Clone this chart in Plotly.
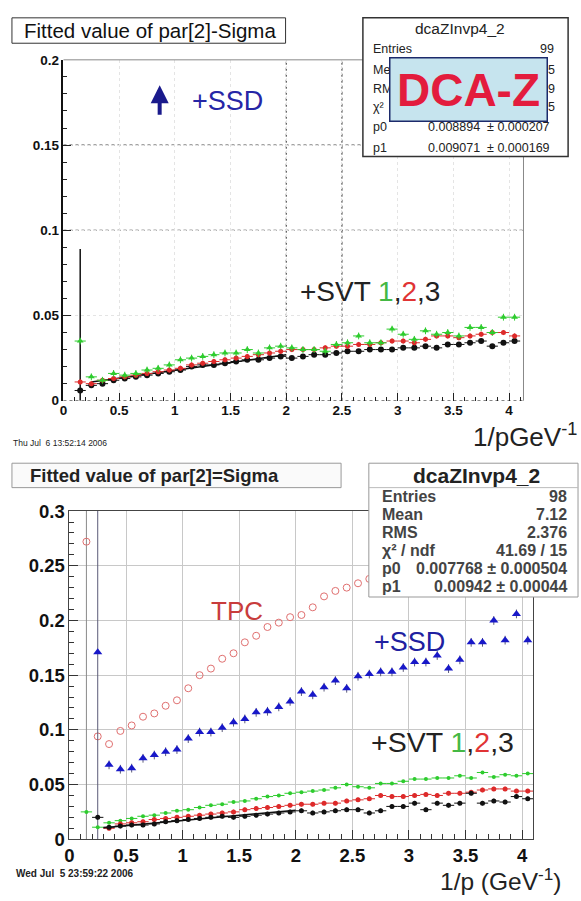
import plotly.graph_objects as go

W, H = 581, 901
def PX(x): return x / W
def PY(y): return 1 - y / H

# ---------------- data: top panel (x = bin centres in 1/p) ----------------
top_x = [0.15, 0.25, 0.35, 0.45, 0.55, 0.65, 0.75, 0.85, 0.95, 1.05,
         1.15, 1.25, 1.35, 1.45, 1.55, 1.65, 1.75, 1.85, 1.95, 2.05,
         2.15, 2.25, 2.35, 2.45, 2.55, 2.65, 2.75, 2.85, 2.95, 3.05,
         3.15, 3.25, 3.35, 3.45, 3.55, 3.65, 3.75, 3.85, 3.95, 4.05]
top_black = [0.006, 0.009, 0.010, 0.012, 0.013, 0.014, 0.015, 0.016, 0.017, 0.018,
             0.020, 0.021, 0.021, 0.022, 0.023, 0.024, 0.024, 0.025, 0.026, 0.025,
             0.026, 0.027, 0.027, 0.028, 0.029, 0.029, 0.030, 0.030, 0.030, 0.031,
             0.031, 0.032, 0.031, 0.033, 0.033, 0.034, 0.035, 0.032, 0.034, 0.035]
top_black_err_up = [0.083] + [0.0012] * 39
top_black_err_dn = [0.006] + [0.0012] * 39
top_red = [0.011, 0.010, 0.012, 0.013, 0.014, 0.015, 0.016, 0.017, 0.018, 0.019,
           0.021, 0.022, 0.023, 0.024, 0.025, 0.026, 0.027, 0.028, 0.029, 0.030,
           0.030, 0.030, 0.031, 0.032, 0.032, 0.033, 0.033, 0.034, 0.035, 0.035,
           0.034, 0.036, 0.038, 0.038, 0.037, 0.038, 0.039, 0.040, 0.040, 0.038]
top_green = [0.035, 0.014, 0.012, 0.016, 0.015, 0.016, 0.018, 0.019, 0.021, 0.024,
             0.025, 0.026, 0.027, 0.028, 0.028, 0.030, 0.028, 0.031, 0.032, 0.031,
             0.030, 0.030, 0.029, 0.033, 0.034, 0.038, 0.034, 0.034, 0.042, 0.039,
             0.036, 0.041, 0.039, 0.040, 0.038, 0.043, 0.043, 0.040, 0.049, 0.049]
top_fit_x = [0.25, 2.0]
top_fit_y = [0.011, 0.027]

# ---------------- data: bottom panel ----------------
bot_tpc_x = [0.15, 0.25, 0.35, 0.45, 0.55, 0.65, 0.75, 0.85, 0.95, 1.05,
             1.15, 1.25, 1.35, 1.45, 1.55, 1.65, 1.75, 1.85, 1.95, 2.05,
             2.15, 2.25, 2.35, 2.45, 2.55, 2.65, 2.75]
bot_tpc = [0.272, 0.094, 0.087, 0.099, 0.104, 0.112, 0.115, 0.122, 0.127, 0.138,
           0.150, 0.156, 0.165, 0.170, 0.180, 0.186, 0.194, 0.198, 0.203, 0.205,
           0.212, 0.222, 0.227, 0.230, 0.234, 0.238, 0.243]
bot_tpc_err = [0.272] + [0.0] * 26

bot_x = [0.25, 0.35, 0.45, 0.55, 0.65, 0.75, 0.85, 0.95, 1.05,
         1.15, 1.25, 1.35, 1.45, 1.55, 1.65, 1.75, 1.85, 1.95, 2.05,
         2.15, 2.25, 2.35, 2.45, 2.55, 2.65, 2.75, 2.85, 2.95, 3.05,
         3.15, 3.25, 3.35, 3.45, 3.55, 3.65, 3.75, 3.85, 3.95, 4.05]
bot_ssd = [0.171, 0.068, 0.064, 0.065, 0.074, 0.077, 0.080, 0.082, 0.092,
           0.098, 0.098, 0.102, 0.107, 0.110, 0.116, 0.117, 0.121, 0.126, 0.135,
           0.132, 0.139, 0.145, 0.138, 0.149, 0.151, 0.153, 0.153, 0.157, 0.162,
           0.162, 0.168, 0.156, 0.164, 0.180, 0.180, 0.200, 0.182, 0.206, 0.182]
bot_ssd_err = [0.171] + [0.004] * 38
bot_black = [0.020, 0.011, 0.012, 0.013, 0.013, 0.014, 0.016, 0.017, 0.018,
             0.019, 0.020, 0.021, 0.020, 0.021, 0.022, 0.023, 0.024, 0.025, 0.026,
             0.024, 0.025, 0.026, 0.027, 0.027, 0.024, 0.026, 0.030, 0.030, 0.033,
             0.027, 0.033, 0.031, 0.033, 0.042, 0.033, 0.035, 0.034, 0.039, 0.037]
bot_red_x = bot_x[1:]
bot_red = [0.010, 0.014, 0.015, 0.016, 0.018, 0.019, 0.020, 0.021,
           0.022, 0.023, 0.024, 0.025, 0.027, 0.028, 0.029, 0.030, 0.031, 0.032,
           0.032, 0.033, 0.033, 0.035, 0.036, 0.037, 0.040, 0.039, 0.039, 0.040,
           0.041, 0.040, 0.042, 0.042, 0.043, 0.045, 0.046, 0.046, 0.044, 0.044]
bot_green_x = [0.15] + bot_x
bot_green = [0.025, 0.011, 0.015, 0.017, 0.019, 0.021, 0.022, 0.024, 0.026, 0.027,
             0.029, 0.031, 0.032, 0.034, 0.035, 0.037, 0.039, 0.040, 0.042, 0.043,
             0.044, 0.045, 0.047, 0.050, 0.048, 0.047, 0.051, 0.051, 0.053, 0.055,
             0.055, 0.056, 0.056, 0.058, 0.056, 0.061, 0.057, 0.059, 0.058, 0.060]
bot_fit_x = [0.3, 2.0]
bot_fit_y = [0.0106, 0.0266]

top_stats = [("Entries", "99"), ("Me", "5"), ("RM", "9"), ("χ²", "5"),
             ("p0", "0.008894  ± 0.000207"), ("p1", "0.009071  ± 0.000169")]
top_stats_right = [556, 557, 557, 557, 552, 552]
bot_stats = [("Entries", "98"), ("Mean", "7.12"), ("RMS", "2.376"), ("χ² / ndf", "41.69 / 15"),
             ("p0", "0.007768 ± 0.000504"), ("p1", "0.00942 ± 0.00044")]

FONT = "Liberation Sans, Arial, sans-serif"
BLACK, RED, GREEN, BLUE = "#111111", "#dd2a2a", "#2ecc2e", "#1818c8"

fig = go.Figure()

def ex(v, c):
    return dict(type="constant", value=v, thickness=1, width=0, color=c)

# top panel traces
fig.add_trace(go.Scatter(x=top_fit_x, y=top_fit_y, mode="lines", line=dict(color=BLACK, width=1.5),
                         xaxis="x", yaxis="y", hoverinfo="skip"))
fig.add_trace(go.Scatter(x=top_x, y=top_black, mode="markers", xaxis="x", yaxis="y",
                         marker=dict(symbol="circle", size=6, color=BLACK),
                         error_x=ex(0.05, BLACK),
                         error_y=dict(type="data", array=top_black_err_up, arrayminus=top_black_err_dn,
                                      symmetric=False, thickness=1.5, width=0, color=BLACK)))
fig.add_trace(go.Scatter(x=top_x, y=top_red, mode="markers", xaxis="x", yaxis="y",
                         marker=dict(symbol="circle", size=5, color=RED),
                         error_x=ex(0.05, RED),
                         error_y=dict(type="constant", value=0.0015, thickness=1, width=0, color=RED)))
fig.add_trace(go.Scatter(x=top_x, y=top_green, mode="markers", xaxis="x", yaxis="y",
                         marker=dict(symbol="triangle-up", size=6, color=GREEN),
                         error_x=ex(0.05, GREEN),
                         error_y=dict(type="constant", value=0.002, thickness=1, width=0, color=GREEN)))

# bottom panel traces
fig.add_trace(go.Scatter(x=bot_tpc_x, y=bot_tpc, mode="markers", xaxis="x2", yaxis="y2",
                         marker=dict(symbol="circle-open", size=7, color="#e07070", line=dict(width=1)),
                         error_y=dict(type="data", array=bot_tpc_err, thickness=1, width=0, color="#8a8a8a")))
fig.add_trace(go.Scatter(x=bot_x, y=bot_ssd, mode="markers", xaxis="x2", yaxis="y2",
                         marker=dict(symbol="triangle-up", size=8, color=BLUE),
                         error_y=dict(type="data", array=bot_ssd_err, thickness=1, width=0, color="#5a5a78")))
fig.add_trace(go.Scatter(x=bot_green_x, y=bot_green, mode="markers", xaxis="x2", yaxis="y2",
                         marker=dict(symbol="circle", size=4, color=GREEN),
                         error_x=ex(0.05, GREEN)))
fig.add_trace(go.Scatter(x=bot_red_x, y=bot_red, mode="markers", xaxis="x2", yaxis="y2",
                         marker=dict(symbol="circle", size=5, color=RED),
                         error_x=ex(0.05, RED),
                         error_y=dict(type="constant", value=0.002, thickness=1, width=0, color=RED)))
fig.add_trace(go.Scatter(x=bot_fit_x, y=bot_fit_y, mode="lines", line=dict(color=BLACK, width=1.5),
                         xaxis="x2", yaxis="y2", hoverinfo="skip"))
fig.add_trace(go.Scatter(x=bot_x, y=bot_black, mode="markers", xaxis="x2", yaxis="y2",
                         marker=dict(symbol="circle", size=5, color=BLACK),
                         error_x=ex(0.05, BLACK),
                         error_y=dict(type="constant", value=0.002, thickness=1, width=0, color=BLACK)))

# ---------------- axes ----------------
top_tick = dict(family=FONT, size=13.5, color="#111", weight="bold")
bot_tick = dict(family=FONT, size=18.5, color="#111", weight="bold")
fig.update_layout(
    width=W, height=H, margin=dict(l=0, r=0, t=0, b=0),
    paper_bgcolor="white", plot_bgcolor="white", showlegend=False,
    xaxis=dict(domain=[PX(59), PX(523)], range=[0, 4.13], anchor="y",
               tickmode="linear", tick0=0, dtick=0.5, ticks="inside", ticklen=8, tickcolor="#222",
               minor=dict(dtick=0.1, ticks="inside", ticklen=4, tickcolor="#222", showgrid=False),
               showgrid=True, gridcolor="#e4e4e4", griddash="dot", zeroline=False,
               showline=False, tickfont=top_tick),
    yaxis=dict(domain=[PY(399), PY(50)], range=[0, 0.2], anchor="x",
               tickmode="linear", tick0=0, dtick=0.05, ticks="inside", ticklen=8, tickcolor="#222",
               minor=dict(dtick=0.01, ticks="inside", ticklen=4, tickcolor="#222", showgrid=False),
               showgrid=True, gridcolor="#e4e4e4", griddash="dot", zeroline=False,
               showline=True, linecolor="#111", linewidth=1.5, tickfont=top_tick),
    xaxis2=dict(domain=[PX(65), PX(533)], range=[0, 4.1], anchor="y2",
                tickmode="linear", tick0=0, dtick=0.5, ticks="inside", ticklen=9, tickcolor="#333",
                minor=dict(dtick=0.1, ticks="inside", ticklen=5, tickcolor="#333", showgrid=False),
                showgrid=True, gridcolor="#c8c8c8", zeroline=False,
                showline=True, mirror=True, linecolor="#444", linewidth=1, tickfont=bot_tick),
    yaxis2=dict(domain=[PY(848), PY(512)], range=[0, 0.3], anchor="x2",
                tickmode="linear", tick0=0, dtick=0.05, ticks="inside", ticklen=9, tickcolor="#333",
                minor=dict(dtick=0.01, ticks="inside", ticklen=5, tickcolor="#333", showgrid=False),
                showgrid=True, gridcolor="#c8c8c8", zeroline=False,
                showline=True, mirror=True, linecolor="#444", linewidth=1, tickfont=bot_tick),
)

shapes = []
# top frame pieces and dark dotted grid lines
shapes.append(dict(type="line", xref="paper", yref="paper", x0=PX(59), x1=PX(523), y0=PY(50), y1=PY(50),
                   line=dict(color="#888", width=1)))
shapes.append(dict(type="line", xref="paper", yref="paper", x0=PX(523), x1=PX(523), y0=PY(399), y1=PY(50),
                   line=dict(color="#888", width=1)))
for yv in (0, 0.1, 0.15):
    shapes.append(dict(type="line", xref="paper", yref="y", x0=PX(59), x1=PX(523), y0=yv, y1=yv,
                       line=dict(color="#333", width=1, dash="dot"), layer="below"))
for xv in (2, 2.5):
    shapes.append(dict(type="line", xref="x", yref="paper", x0=xv, x1=xv, y0=PY(399), y1=PY(50),
                       line=dict(color="#333", width=1, dash="dot"), layer="below"))

def rect(x0, y0, x1, y1, fill="white", line="#333", lw=1):
    return dict(type="rect", xref="paper", yref="paper", x0=PX(x0), x1=PX(x1), y0=PY(y1), y1=PY(y0),
                fillcolor=fill, line=dict(color=line, width=lw), layer="above")

shapes.append(rect(7, 7, 283, 33, line="#333", lw=1))
shapes.append(rect(361, 7, 568, 149, line="#333", lw=1.5))
shapes.append(rect(7, 463, 339, 488, fill="#fafafa", line="#999", lw=1))
shapes.append(rect(367, 463, 578, 600, line="#999", lw=1))
shapes.append(dict(type="line", xref="paper", yref="paper", x0=PX(367), x1=PX(578), y0=PY(488), y1=PY(488),
                   line=dict(color="#bbb", width=1), layer="above"))
fig.update_layout(shapes=shapes)

ann = []
def text(x, y, s, size, color="#111", xanchor="left", weight="normal", family=FONT):
    ann.append(dict(xref="paper", yref="paper", x=PX(x), y=PY(y), text=s, showarrow=False,
                    xanchor=xanchor, yanchor="middle",
                    font=dict(family=family, size=size, color=color, weight=weight)))

# titles
text(17, 20, "Fitted value of par[2]-Sigma", 20.5, "#111")
text(23, 476, "Fitted value of par[2]=Sigma", 18.5, "#222", weight="bold")

# top stats box
text(459, 18, "dcaZInvp4_2", 15.5, "#222", xanchor="center")
for (lab, val), yy, xr in zip(top_stats, [39, 60, 80, 98, 119, 140], top_stats_right):
    text(369, yy, lab, 12.5, "#222")
    text(xr, yy, val, 12.5, "#222", xanchor="right")
# DCA-Z label box (on top of the stats rows)
ann.append(dict(xref="paper", yref="paper", x=PX(468), y=PY(80), text="<b>DCA-Z</b>", showarrow=False,
                xanchor="center", yanchor="middle", width=156, height=62, borderpad=0,
                bgcolor="#c6e4ee", bordercolor="#1c2a6b", borderwidth=1.5,
                font=dict(family=FONT, size=46, color="#e31c3d")))

# bottom stats box
text(476, 476, "dcaZInvp4_2", 21, "#222", xanchor="center", weight="bold")
for (lab, val), yy in zip(bot_stats, [497, 515.5, 534, 552.5, 571, 589.5]):
    text(378, yy, lab, 16, "#444", weight="bold")
    text(569, yy, val, 16, "#444", xanchor="right", weight="bold")

# top panel labels
ann.append(dict(xref="paper", yref="paper", x=PX(156), y=PY(76), ax=0, ay=31, text="",
                showarrow=True, arrowhead=2, arrowsize=0.9, arrowwidth=4, arrowcolor="#1a1a8c"))
text(224, 92, "+SSD", 27, "#2626a6", xanchor="center")
svt = ("+SVT <span style='color:#44b844'>1</span>,<span style='color:#e03434'>2</span>,3")
text(368, 287, svt, 28, "#222", xanchor="center")
text(579, 435, "1/pGeV<sup>-1</sup>", 26, "#222", xanchor="right")
text(6, 442, "Thu Jul  6 13:52:14 2006", 8.5, "#222")

# bottom panel labels
text(234, 614, "TPC", 26, "#c83c3c", xanchor="center")
text(408, 646, "+SSD", 27, "#2020a0", xanchor="center")
text(441, 748, svt, 28.5, "#222", xanchor="center")
text(563, 889, "1/p (GeV<sup>-1</sup>)", 24.5, "#222", xanchor="right")
text(9, 883, "Wed Jul  5 23:59:22 2006", 10, "#222", weight="bold")

fig.update_layout(annotations=ann)
fig.write_html("out.html", config={"displayModeBar": False},
               post_script="document.body.style.margin='0';document.body.style.overflow='hidden';")
